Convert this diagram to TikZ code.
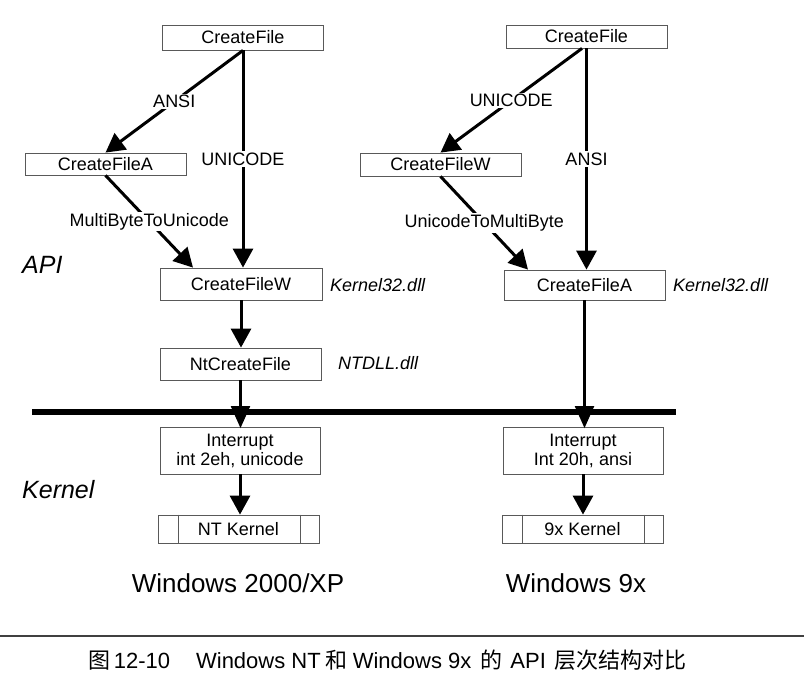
\documentclass[tikz,border=0pt]{standalone}
\usepackage{fontspec}
\setmainfont{Liberation Sans}
\newfontfamily\cjk{Noto Sans CJK SC}
\usetikzlibrary{arrows.meta}
\begin{document}
\begin{tikzpicture}[x=1pt,y=-1pt,
  box/.style={draw=black!65, line width=0.8pt, inner sep=0pt, align=center,
    font=\fontsize{18}{19}\selectfont},
  lbl/.style={fill=white, inner sep=1.5pt, font=\fontsize{18}{19}\selectfont},
  dll/.style={anchor=west, inner sep=0pt, font=\fontsize{18}{19}\selectfont\itshape},
  layer/.style={anchor=west, inner sep=0pt, font=\fontsize{25}{26}\selectfont\itshape},
  title/.style={inner sep=0pt, font=\fontsize{26}{27}\selectfont},
  bigarr/.style={line width=3pt, -{Triangle[length=19pt,width=20pt]}},
  thinarr/.style={line width=2.1pt, -{Triangle[length=22pt,width=19pt]}},
  boxline/.style={draw=black!65, line width=0.8pt}]
\useasboundingbox (0,0) rectangle (804,683);

% ---- left column (Windows 2000/XP)
\node[box, minimum width=161pt, minimum height=25pt] (lcf)  at (243,37.5) {CreateFile};
\node[box, minimum width=161pt, minimum height=22pt] (lcfa) at (105.5,164) {CreateFileA};
\node[box, minimum width=162pt, minimum height=32pt] (lcfw) at (241,284) {CreateFileW};
\node[box, minimum width=161pt, minimum height=32pt] (lnt)  at (240.5,364) {NtCreateFile};
\node[box, minimum width=160pt, minimum height=47pt] (lint) at (240,450.5) {Interrupt\\int 2eh, unicode};
\node[box, minimum width=161pt, minimum height=28pt] (lntk) at (238.5,529) {NT Kernel};
\draw[boxline] ([xshift=-60.5pt]lntk.north) -- ([xshift=-60.5pt]lntk.south);
\draw[boxline] ([xshift=61.5pt]lntk.north) -- ([xshift=61.5pt]lntk.south);

% ---- right column (Windows 9x)
\node[box, minimum width=161pt, minimum height=23pt] (rcf)  at (586.5,36.5) {CreateFile};
\node[box, minimum width=161pt, minimum height=23pt] (rcfw) at (440.5,164.5) {CreateFileW};
\node[box, minimum width=161pt, minimum height=30pt] (rcfa) at (584.5,285) {CreateFileA};
\node[box, minimum width=160pt, minimum height=47pt] (rint) at (583,450.5) {Interrupt\\Int 20h, ansi};
\node[box, minimum width=161pt, minimum height=28pt] (r9k)  at (582.5,529) {9x Kernel};
\draw[boxline] ([xshift=-60.5pt]r9k.north) -- ([xshift=-60.5pt]r9k.south);
\draw[boxline] ([xshift=61.5pt]r9k.north) -- ([xshift=61.5pt]r9k.south);

% ---- side labels
\node[layer] (api) at (22,265) {API};
\node[layer] (kern) at (22,490) {Kernel};
\node[dll] (k32l) at (330,285) {Kernel32.dll};
\node[dll] (ntdll) at (338,363) {NTDLL.dll};
\node[dll] (k32r) at (673,285) {Kernel32.dll};

% ---- API/kernel boundary
\coordinate (bl) at (32,412);
\coordinate (br) at (676,412);
\draw[line width=6pt] (bl) -- (br);

% ---- left connectors
\draw[bigarr] (lcf.south) -- (lcfa.north) node[lbl, midway] {ANSI};
\draw[bigarr] (lcf.south) -- (lcf.south |- lcfw.north) node[lbl, midway] {UNICODE};
\draw[bigarr] (lcfa.south) -- ([xshift=-48pt]lcfw.north) node[lbl, midway] {MultiByteToUnicode};
\draw[bigarr] (lcfw.south) -- (lcfw.south |- lnt.north);
\draw[thinarr] (lnt.south) -- ([yshift=-1.5pt]lnt.south |- lint.north);
\draw[bigarr] (lint.south) -- (lint.south |- lntk.north);

% ---- right connectors
\draw[bigarr] ([xshift=-4.5pt]rcf.south) -- (rcfw.north) node[lbl, midway] {UNICODE};
\draw[bigarr] (rcf.south) -- (rcf.south |- rcfa.north) node[lbl, midway] {ANSI};
\draw[bigarr] (rcfw.south) -- ([xshift=-56.5pt]rcfa.north) node[lbl, midway] {UnicodeToMultiByte};
\draw[thinarr] (rcfa.south) -- ([yshift=-1.5pt]rcfa.south |- rint.north);
\draw[bigarr] (rint.south) -- (rint.south |- r9k.north);

% ---- titles
\node[title] (tl) at (238,583) {Windows 2000/XP};
\node[title] (tr) at (576,583) {Windows 9x};

% ---- caption
\coordinate (cl) at (0,636);
\coordinate (cr) at (804,636);
\draw[line width=1.6pt, black!75] (cl) -- (cr);
\node[anchor=west, inner sep=0pt, font=\fontsize{22}{24}\selectfont] (cap) at (88,660)
  {{\cjk 图}\,12-10\hspace{26pt}Windows NT\hspace{5pt}{\cjk 和}\hspace{5pt}Windows 9x\hspace{9pt}{\cjk 的}\hspace{8pt}API\hspace{9pt}{\cjk 层次结构对比}};
\end{tikzpicture}
\end{document}
